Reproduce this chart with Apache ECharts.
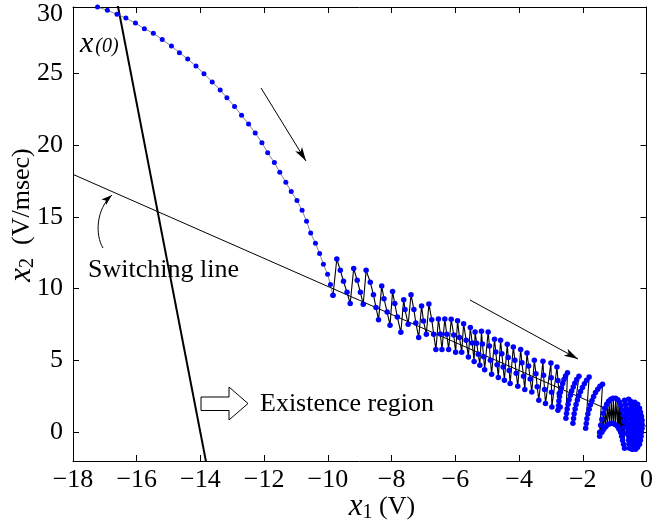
<!DOCTYPE html>
<html>
<head>
<meta charset="utf-8">
<script src="https://cdn.jsdelivr.net/npm/echarts@6/dist/echarts.min.js"></script>
<style>
  html, body { margin: 0; padding: 0; background: #fff; }
  #chart { width: 656px; height: 527px; }
</style>
</head>
<body>
<div id="chart"></div>
<script>
// axis ticks
const xTicks = [-18, -16, -14, -12, -10, -8, -6, -4, -2, 0];
const yTicks = [0, 5, 10, 15, 20, 25];

// straight lines [x1, x2]
const boundaryLine = [[-16.62, 30], [-13.82, -2.1]];
const switchingLine = [[-18, 17.95], [0, 0.4]];

// trajectory: reaching phase
const approachPts = [
  [-17.23, 29.6], [-16.92, 29.37], [-16.62, 29.09], [-16.34, 28.83], [-16.04, 28.48],
  [-15.76, 28.09], [-15.48, 27.77], [-15.20, 27.33], [-14.91, 26.88], [-14.66, 26.42],
  [-14.40, 25.98], [-14.14, 25.49], [-13.89, 24.96], [-13.63, 24.38], [-13.38, 23.82],
  [-13.17, 23.29], [-12.93, 22.67], [-12.71, 22.06], [-12.49, 21.45], [-12.28, 20.83],
  [-12.07, 20.16], [-11.89, 19.46], [-11.68, 18.77], [-11.51, 18.09], [-11.32, 17.40],
  [-11.15, 16.75], [-10.97, 16.14], [-10.81, 15.45], [-10.67, 14.68], [-10.54, 13.87],
  [-10.39, 13.15], [-10.26, 12.44], [-10.14, 11.69], [-10.01, 11.00], [-9.92, 10.28],
  [-9.84, 9.53]
];

// trajectory: chattering teeth along the switching line
const teethPts = [
  [-9.72, 12.06], [-9.61, 11.27], [-9.51, 10.51], [-9.40, 9.74], [-9.30, 8.96],
  [-9.19, 11.39], [-9.08, 10.58], [-8.98, 9.74], [-8.89, 8.91],
  [-8.80, 11.27], [-8.67, 10.44], [-8.57, 9.58], [-8.49, 8.68], [-8.41, 7.84],
  [-8.31, 10.18], [-8.24, 9.30], [-8.14, 8.37], [-8.05, 7.45],
  [-7.97, 9.79], [-7.90, 8.96], [-7.82, 8.02], [-7.71, 6.96],
  [-7.62, 9.23], [-7.58, 8.54], [-7.48, 7.52],
  [-7.39, 9.58], [-7.30, 8.54], [-7.24, 7.61], [-7.15, 6.59],
  [-7.06, 8.79], [-7.00, 7.75], [-6.91, 6.82],
  [-6.83, 8.93], [-6.74, 7.84], [-6.68, 6.82], [-6.61, 5.76],
  [-6.53, 7.88], [-6.47, 6.84], [-6.42, 5.76],
  [-6.33, 7.88], [-6.27, 6.82], [-6.21, 5.76],
  [-6.13, 7.86], [-6.05, 6.77], [-5.99, 5.57],
  [-5.93, 7.77], [-5.87, 6.59], [-5.80, 5.57],
  [-5.74, 7.56], [-5.66, 6.40], [-5.59, 5.24],
  [-5.53, 7.29], [-5.47, 6.21], [-5.41, 4.92],
  [-5.38, 6.98], [-5.33, 6.20], [-5.28, 5.43], [-5.23, 4.66],
  [-5.18, 7.03], [-5.15, 6.14], [-5.11, 5.25], [-5.08, 4.36],
  [-4.97, 6.98], [-4.93, 6.00], [-4.90, 5.02], [-4.86, 4.04],
  [-4.77, 6.47], [-4.73, 5.58], [-4.69, 4.70], [-4.65, 3.81],
  [-4.58, 6.40], [-4.54, 5.47], [-4.50, 4.55], [-4.46, 3.62],
  [-4.37, 6.12], [-4.34, 5.21], [-4.31, 4.30], [-4.28, 3.39],
  [-4.18, 5.93], [-4.13, 5.02], [-4.09, 4.11], [-4.04, 3.20],
  [-3.95, 5.76], [-3.91, 4.83], [-3.86, 3.90], [-3.82, 2.97],
  [-3.75, 5.52], [-3.70, 4.61], [-3.65, 3.71], [-3.60, 2.80],
  [-3.52, 5.01], [-3.47, 4.08], [-3.43, 3.16], [-3.38, 2.23],
  [-3.25, 4.94], [-3.23, 3.96], [-3.20, 2.98], [-3.17, 2.00],
  [-3.00, 4.82], [-2.99, 3.80], [-2.98, 2.78], [-2.97, 1.76],
  [-2.81, 4.54], [-2.78, 3.61], [-2.74, 2.69], [-2.71, 1.76]
];

// trajectory: crescent arcs near the end
const crescentPts = [
  [-2.78, 1.53], [-2.76, 1.85], [-2.75, 2.17], [-2.73, 2.49], [-2.70, 2.80], [-2.67, 3.10],
  [-2.63, 3.40], [-2.59, 3.67], [-2.54, 3.92], [-2.48, 4.15],
  [-2.53, 0.97], [-2.51, 1.30], [-2.49, 1.62], [-2.46, 1.95], [-2.43, 2.27], [-2.39, 2.58],
  [-2.35, 2.87], [-2.30, 3.15], [-2.25, 3.42], [-2.19, 3.67], [-2.12, 3.90],
  [-2.31, 0.63], [-2.29, 0.96], [-2.27, 1.29], [-2.24, 1.62], [-2.21, 1.94], [-2.17, 2.25],
  [-2.12, 2.55], [-2.07, 2.84], [-2.01, 3.12], [-1.95, 3.38], [-1.88, 3.62], [-1.80, 3.85],
  [-1.91, 0.28], [-1.89, 0.61], [-1.87, 0.94], [-1.84, 1.27], [-1.80, 1.60], [-1.76, 1.91],
  [-1.71, 2.21], [-1.66, 2.49], [-1.60, 2.76], [-1.53, 3.00], [-1.46, 3.20], [-1.38, 3.34]
];

// trajectory: dome (alternates between upper and lower edge)
const domeTop = [
  [-1.47, 0], [-1.44, 0.49], [-1.40, 0.90], [-1.36, 1.32], [-1.31, 1.67], [-1.25, 1.95],
  [-1.19, 2.16], [-1.12, 2.30], [-1.05, 2.37], [-0.97, 2.37], [-0.90, 2.26], [-0.84, 2.09],
  [-0.80, 1.84], [-0.76, 1.53], [-0.73, 1.18], [-0.72, 0.77], [-0.70, 0.35], [-0.69, -0.07]
];
const domeBottom = [
  [-1.47, -0.28], [-1.40, 0], [-1.34, 0.21], [-1.28, 0.38], [-1.22, 0.52], [-1.15, 0.59],
  [-1.09, 0.63], [-1.03, 0.59], [-0.97, 0.52], [-0.90, 0.38], [-0.86, 0.21], [-0.81, 0],
  [-0.78, -0.28], [-0.75, -0.56], [-0.72, -0.84], [-0.69, -1.11]
];

// trajectory: final cluster next to the origin
const blobPts = [
  [-0.69, 2.23], [-0.66, 1.95], [-0.64, 1.67], [-0.62, 1.39], [-0.62, 1.11], [-0.61, 0.84], [-0.59, 0.56],
  [-0.59, 0.28], [-0.58, 0], [-0.56, -0.28], [-0.56, -0.56], [-0.55, -0.84], [-0.53, -1.11],
  [-0.44, -1.18], [-0.42, -0.90], [-0.41, -0.63], [-0.41, -0.35], [-0.39, -0.07], [-0.37, 0.21], [-0.37, 0.49],
  [-0.39, 0.77], [-0.41, 1.04], [-0.42, 1.32], [-0.44, 1.60], [-0.47, 1.88], [-0.50, 2.16], [-0.56, 2.30],
  [-0.50, 1.95], [-0.51, 1.60], [-0.51, 1.25], [-0.50, 0.90], [-0.49, 0.56], [-0.49, 0.21], [-0.48, -0.14],
  [-0.48, -0.49], [-0.47, -0.84], [-0.46, -1.16],
  [-0.37, 2.09], [-0.28, 1.95], [-0.22, 1.67], [-0.19, 1.39], [-0.16, 1.11], [-0.14, 0.84], [-0.14, 0.56],
  [-0.14, 0.28], [-0.16, 0], [-0.17, -0.28], [-0.19, -0.56], [-0.22, -0.84], [-0.28, -1.04], [-0.34, -1.18],
  [-0.31, -0.97], [-0.30, -0.70], [-0.28, -0.42], [-0.28, -0.14], [-0.28, 0.14], [-0.28, 0.42], [-0.30, 0.70],
  [-0.31, 0.97], [-0.31, 1.25], [-0.33, 1.53], [-0.34, 1.81],
  [-0.24, 1.60], [-0.23, 1.25], [-0.22, 0.90], [-0.22, 0.56], [-0.22, 0.21], [-0.23, -0.14], [-0.24, -0.49]
];

// build the rest of the trajectory in order
let domePts = [];
domeTop.forEach((p, i) => {
  domePts.push(p);
  if (domeBottom[i]) domePts.push(domeBottom[i]);
});
const slidingPts = [approachPts[approachPts.length - 1]].concat(teethPts, crescentPts, domePts, blobPts);

const FONT = "Liberation Serif";
const minus = (v) => String(v).replace("-", "\u2212");

// arrow head polygon for a line from p0 to p1 (pixels)
function arrowHead(p0, p1, len, half) {
  const dx = p1[0] - p0[0], dy = p1[1] - p0[1];
  const d = Math.sqrt(dx * dx + dy * dy);
  const ux = dx / d, uy = dy / d;
  const nx = -uy, ny = ux;
  const bx = p1[0] - ux * len, by = p1[1] - uy * len;
  const mx = p1[0] - ux * len * 0.75, my = p1[1] - uy * len * 0.75;
  return {
    type: "polygon",
    shape: { points: [p1, [bx + nx * half, by + ny * half], [mx, my], [bx - nx * half, by - ny * half]] },
    style: { fill: "#000" },
  };
}

const arrow1 = [[261, 88], [306, 161]];
const arrow2 = [[470, 300], [578, 359]];
const curveArrow = { x1: 103, y1: 248, cpx1: 95, cpy1: 235, cpx2: 96, cpy2: 209, x2: 112, y2: 195 };

let chart = echarts.init(document.getElementById("chart"), null, { renderer: "canvas" });

const tickStyle = { show: true, inside: true, length: 6, lineStyle: { color: "#000", width: 1 } };
const lineAxis = { show: true, onZero: false, lineStyle: { color: "#000", width: 1 } };
const dotStyle = { color: "#0000ff" };

let option = {
  animation: false,
  backgroundColor: "#fff",
  grid: { left: 73, right: 6, top: 7, bottom: 66 },
  xAxis: [
    {
      type: "value", min: -18, max: 0, interval: 2,
      axisLine: lineAxis,
      axisTick: tickStyle,
      axisLabel: { color: "#000", fontFamily: FONT, fontSize: 26, margin: 6, formatter: minus },
      splitLine: { show: false },
    },
    {
      type: "value", position: "top", min: -18, max: 0, interval: 2,
      axisLine: lineAxis,
      axisTick: tickStyle,
      axisLabel: { show: false },
      splitLine: { show: false },
    },
  ],
  yAxis: [
    {
      type: "value", min: -2, max: 29.6,
      axisLine: lineAxis,
      axisTick: Object.assign({}, tickStyle, { customValues: yTicks }),
      axisLabel: { color: "#000", fontFamily: FONT, fontSize: 26, margin: 10, customValues: yTicks, formatter: minus },
      splitLine: { show: false },
    },
    {
      type: "value", position: "right", min: -2, max: 29.6,
      axisLine: lineAxis,
      axisTick: Object.assign({}, tickStyle, { customValues: yTicks }),
      axisLabel: { show: false },
      splitLine: { show: false },
    },
  ],
  series: [
    {
      type: "line", data: boundaryLine, symbol: "none",
      lineStyle: { color: "#000", width: 2 }, z: 2,
    },
    {
      type: "line", data: switchingLine, symbol: "none",
      lineStyle: { color: "#000", width: 1 }, z: 2,
    },
    {
      type: "line", data: approachPts, symbol: "circle", symbolSize: 5, showAllSymbol: true,
      itemStyle: dotStyle,
      lineStyle: { color: "#666", width: 0.8 }, z: 3,
    },
    {
      type: "line", data: slidingPts, symbol: "circle", symbolSize: 5.5, showAllSymbol: true,
      itemStyle: dotStyle,
      lineStyle: { color: "#000", width: 1.1 }, z: 3,
    },
  ],
  graphic: [
    // "30" tick label at the top
    { type: "text", x: 63, y: 14,
      style: { text: "30", font: "26px " + FONT, fill: "#000", align: "right", verticalAlign: "middle" } },
    // axis titles
    { type: "text", x: 382, y: 507,
      style: {
        text: "{x|x}{s|1}{n| (V)}", align: "center", verticalAlign: "middle", fill: "#000",
        rich: {
          x: { fontFamily: FONT, fontStyle: "italic", fontSize: 31 },
          s: { fontFamily: FONT, fontSize: 20, padding: [12, 0, 0, 0] },
          n: { fontFamily: FONT, fontSize: 26 },
        },
      } },
    { type: "text", x: 22, y: 215, rotation: Math.PI / 2,
      style: {
        text: "{x|x}{s|2}{n|  (V/msec)}", align: "center", verticalAlign: "middle", fill: "#000",
        rich: {
          x: { fontFamily: FONT, fontStyle: "italic", fontSize: 31 },
          s: { fontFamily: FONT, fontSize: 20, padding: [12, 0, 0, 0] },
          n: { fontFamily: FONT, fontSize: 26 },
        },
      } },
    // x(0) label
    { type: "text", x: 80, y: 44,
      style: {
        text: "{x|x}{s|(0)}", align: "left", verticalAlign: "middle", fill: "#000",
        rich: {
          x: { fontFamily: FONT, fontStyle: "italic", fontSize: 30, verticalAlign: "bottom" },
          s: { fontFamily: FONT, fontStyle: "italic", fontSize: 20, verticalAlign: "bottom", padding: [0, 0, 2, 2] },
        },
      } },
    // annotations
    { type: "text", x: 88, y: 270,
      style: { text: "Switching line", font: "26px " + FONT, fill: "#000", align: "left", verticalAlign: "middle" } },
    { type: "text", x: 260, y: 404,
      style: { text: "Existence region", font: "26px " + FONT, fill: "#000", align: "left", verticalAlign: "middle" } },
    { type: "polygon",
      shape: { points: [[201, 397], [229, 397], [229, 387], [248, 403.5], [229, 420], [229, 410.5], [201, 410.5]] },
      style: { fill: "#fff", stroke: "#000", lineWidth: 1 } },
    { type: "line", shape: { x1: arrow1[0][0], y1: arrow1[0][1], x2: arrow1[1][0], y2: arrow1[1][1] },
      style: { stroke: "#000", lineWidth: 1 } },
    arrowHead(arrow1[0], arrow1[1], 14, 4),
    { type: "line", shape: { x1: arrow2[0][0], y1: arrow2[0][1], x2: arrow2[1][0], y2: arrow2[1][1] },
      style: { stroke: "#000", lineWidth: 1 } },
    arrowHead(arrow2[0], arrow2[1], 14, 4),
    { type: "bezierCurve", shape: curveArrow, style: { stroke: "#000", lineWidth: 1, fill: null } },
    arrowHead([curveArrow.cpx2, curveArrow.cpy2], [curveArrow.x2, curveArrow.y2], 11, 3.5),
  ],
};
chart.setOption(option);
</script>
</body>
</html>
